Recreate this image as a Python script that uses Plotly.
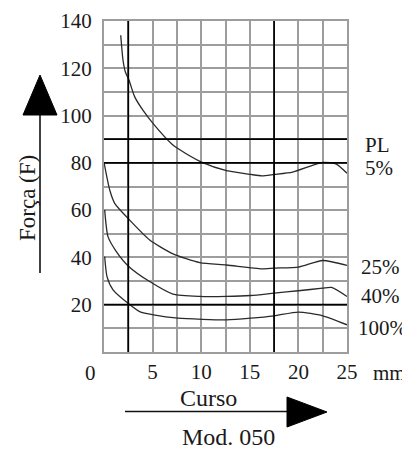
import plotly.graph_objects as go

# ---- data ----
curso_pl = [1.72, 1.96, 2.2, 2.57, 3.16, 4.0, 5.1, 7.0, 7.6, 10.1, 12.6, 15.1, 16.25, 17.5, 19.4, 22.5, 23.9, 25.0]
forca_pl = [134.0, 123.3, 118.4, 115.0, 107.9, 102.3, 96.4, 87.9, 86.1, 80.2, 76.7, 75.1, 74.5, 75.1, 76.1, 80.2, 79.5, 75.6]

curso_25 = [0.0, 0.59, 1.1, 2.57, 4.7, 7.1, 9.85, 12.6, 16.25, 17.5, 20.0, 22.5, 25.0]
forca_25 = [80.2, 68.5, 62.9, 56.1, 47.4, 41.5, 37.8, 36.8, 35.2, 35.5, 35.9, 38.7, 36.6]

curso_40 = [0.07, 0.41, 1.27, 2.57, 4.7, 7.1, 9.85, 12.6, 15.1, 17.5, 20.0, 22.5, 23.4, 25.0]
forca_40 = [60.1, 48.8, 42.5, 36.1, 29.8, 24.5, 23.5, 23.5, 23.9, 24.9, 25.9, 27.0, 27.3, 23.5]

curso_100 = [0.07, 0.31, 0.93, 2.57, 3.67, 5.1, 7.6, 12.6, 15.1, 17.5, 20.0, 22.5, 25.0]
forca_100 = [40.4, 31.9, 26.3, 20.3, 17.1, 15.7, 14.3, 13.6, 14.3, 15.3, 16.9, 15.3, 11.5]

x_ticks = [5, 10, 15, 20, 25]
y_ticks = [20, 40, 60, 80, 100, 120, 140]
dark_x = [2.5, 17.5]
dark_y = [20, 80, 90]
curve_labels = ["PL", "5%", "25%", "40%", "100%"]

# ---- layout helpers (screen pixel -> paper); page body adds an 8px offset ----
OFF = 8
FW, FH = 410 - OFF, 450 - OFF
L, T, W, H = 104, 21, 243, 331   # plot area in screen pixels
def X(px):
    return (px - L) / W
def Y(py):
    return (T + H - py) / H

FONT = "Liberation Serif"
TXT = "#1a1a1a"
GRID = "#9d9d9d"

fig = go.Figure()
for xs, ys in [(curso_pl, forca_pl), (curso_25, forca_25), (curso_40, forca_40), (curso_100, forca_100)]:
    fig.add_trace(go.Scatter(x=xs, y=ys, mode="lines",
                             line=dict(color="#2a2a2a", width=1.3, shape="spline", smoothing=0.6),
                             hoverinfo="skip", showlegend=False))

shapes = []
for v in dark_x:
    shapes.append(dict(type="line", xref="x", yref="paper", x0=v, x1=v, y0=0, y1=1,
                       line=dict(color="#000", width=1.7), layer="above"))
for v in dark_y:
    shapes.append(dict(type="line", xref="paper", yref="y", x0=0, x1=1, y0=v, y1=v,
                       line=dict(color="#000", width=1.7), layer="above"))

# arrows
shapes.append(dict(type="line", xref="paper", yref="paper", x0=X(40), x1=X(40), y0=Y(273), y1=Y(112),
                   line=dict(color="#111", width=1.6)))
shapes.append(dict(type="path", xref="paper", yref="paper",
                   path=f"M {X(23)} {Y(115)} L {X(57)} {Y(115)} L {X(40)} {Y(75)} Z",
                   fillcolor="#000", line=dict(color="#000", width=1)))
shapes.append(dict(type="line", xref="paper", yref="paper", x0=X(125), x1=X(290), y0=Y(411.5), y1=Y(411.5),
                   line=dict(color="#111", width=1.6)))
shapes.append(dict(type="path", xref="paper", yref="paper",
                   path=f"M {X(287)} {Y(397)} L {X(287)} {Y(427)} L {X(327)} {Y(412)} Z",
                   fillcolor="#000", line=dict(color="#000", width=1)))

annotations = []
def ann(text, px, py, size=21, xanchor="center", angle=0):
    annotations.append(dict(text=text, xref="paper", yref="paper", x=X(px), y=Y(py),
                            xanchor=xanchor, yanchor="middle", showarrow=False, textangle=angle,
                            font=dict(family=FONT, size=size, color=TXT)))

label_pos = [(363, 145), (363, 168), (359, 267), (359, 296), (356, 328)]
for t, (px, py) in zip(curve_labels, label_pos):
    ann(t, px, py, 21, "left")
ann("0", 90, 373)
ann("mm", 389, 373)
ann("Força (F)", 27, 198, 23, angle=-90)
ann("Curso", 208, 398, 24)
ann("Mod. 050", 228, 437, 24)

fig.update_layout(
    width=FW, height=FH,
    margin=dict(l=L - OFF, r=FW - (L - OFF) - W, t=T - OFF, b=FH - (T - OFF) - H, autoexpand=False),
    paper_bgcolor="white", plot_bgcolor="white",
    shapes=shapes, annotations=annotations,
    xaxis=dict(range=[0, 25], showgrid=True, gridcolor=GRID, gridwidth=2, automargin=False,
               showline=True, mirror=True, linecolor=GRID, linewidth=2, zeroline=False,
               tickmode="array", tickvals=x_ticks, ticktext=[str(v) for v in x_ticks],
               ticks="", ticklabelstandoff=0,
               tickfont=dict(family=FONT, size=21, color=TXT), fixedrange=True),
    yaxis=dict(range=[0, 140], showgrid=True, gridcolor=GRID, gridwidth=2, automargin=False,
               showline=True, mirror=True, linecolor=GRID, linewidth=2, zeroline=False,
               tickmode="array", tickvals=y_ticks, ticktext=[str(v) for v in y_ticks],
               ticks="", ticklabelstandoff=6,
               tickfont=dict(family=FONT, size=21, color=TXT), fixedrange=True),
)
# grid at every 2.5 mm / 10 units independent of tick labels
fig.update_xaxes(minor=dict(dtick=2.5, tick0=0, showgrid=True, gridcolor=GRID, gridwidth=2))
fig.update_yaxes(minor=dict(dtick=10, tick0=0, showgrid=True, gridcolor=GRID, gridwidth=2))

fig.write_html("out.html")
